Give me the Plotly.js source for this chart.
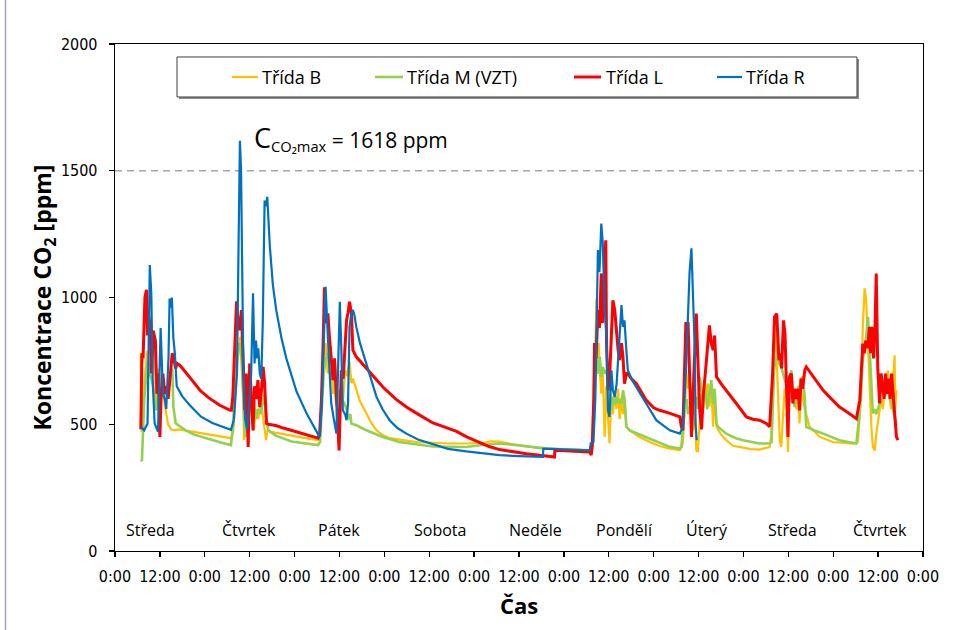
<!DOCTYPE html>
<html>
<head>
<meta charset="utf-8">
<script src="https://cdn.plot.ly/plotly-3.0.1.min.js"></script>
<style>
  html, body { margin: 0; padding: 0; background: #ffffff; }
  #chart { width: 971px; height: 630px; }
</style>
</head>
<body>
<div id="chart"></div>
<script>
// CO2 concentration in four classrooms, hours counted from Wednesday 0:00
const seriesNames = ['Třída B', 'Třída M (VZT)', 'Třída L', 'Třída R'];
const seriesColors = ['#FFC000', '#92D050', '#FF0000', '#0070C0'];

// [hour, ppm]
const tridaB = [
  [6.9,780],[7.1,470],[7.8,660],[8.6,790],[9.2,700],[9.8,760],[10.5,830],[11.0,560],[11.6,720],[12.2,660],
  [13.0,610],[13.5,560],[14.2,500],[15.0,480],[15.8,476],[17,480],[20,472],[23,466],[26,458],[29,450],[31.0,445],
  [31.6,470],[32.2,620],[32.8,760],[33.5,845],[34.0,780],[34.5,437],[35.0,500],[35.5,540],[36.0,608],[36.6,520],
  [37.1,476],[37.7,560],[38.3,520],[38.9,600],[39.6,516],[40.0,470],[40.4,437],[40.8,480],[41.5,470],[44,464],
  [47,455],[50,446],[52,442],[54.3,438],
  [54.8,460],[55.3,620],[55.8,760],[56.3,820],[56.9,700],[57.3,851],[57.8,760],[58.3,620],[58.8,700],[59.4,560],
  [60.0,520],[60.5,640],[61.0,600],[61.5,713],[62.0,690],[62.7,746],[63.2,662],[63.6,680],[64.5,634],[65.5,590],
  [67.2,543],[68.5,505],[69.9,476],[71.5,458],[73.4,445],[77,436],[80.6,430],[85,427],[89.5,424],[94,424],
  [98.4,426],[100.5,433],[102.8,432],[106,422],[109,415],[111.7,410],[116,405],[120,402],[126.9,397],
  [127.5,400],[127.8,582],[128.2,753],[128.5,850],[128.7,996],[129.0,700],[129.3,820],[129.6,713],[130.0,621],
  [130.4,700],[130.9,450],[131.3,650],[131.8,540],[132.2,424],[132.7,608],[133.1,540],[133.6,620],[134.0,560],
  [134.5,640],[134.9,520],[135.4,600],[135.8,540],[136.2,608],[136.7,490],[137.6,476],[140.2,450],[143,430],
  [145.6,414],[148,405],[151.0,397],
  [151.8,424],[152.3,560],[152.8,700],[153.2,640],[153.6,687],[154.1,600],[154.5,476],[155.0,560],[155.4,397],
  [155.8,391],[156.3,520],[156.8,620],[157.3,560],[157.8,650],[158.1,608],[158.5,660],[158.9,570],[159.4,650],
  [159.9,490],[160.3,620],[160.8,490],[162,460],[163.4,437],[165.2,415],[167.9,408],[170,402],[172.3,400],[175.0,410],
  [175.4,450],[175.8,650],[176.2,800],[176.6,884],[177.1,700],[177.7,437],[178.1,410],[178.6,560],[179.0,640],
  [179.5,600],[179.9,391],[180.3,640],[180.8,620],[181.2,647],[181.7,600],[182.2,560],[182.6,620],[183.0,503],
  [183.4,640],[183.9,600],[184.4,560],[185.7,490],[188.4,450],[191.9,430],[195,425],[197.3,424],[198.6,430],
  [199.5,621],[199.9,884],[200.4,1036],[200.8,990],[201.3,800],[201.7,650],[202.2,490],[202.6,410],[203.1,397],
  [203.5,460],[203.9,500],[204.4,542],[204.8,600],[205.3,560],[205.7,640],[206.2,620],[206.6,713],[207.1,600],
  [207.5,560],[207.9,650],[208.4,772],[208.6,560],[208.9,634]
];

const tridaM = [
  [6.9,360],[7.2,355],[7.8,595],[8.7,750],[9.3,700],[10.1,660],[11.0,555],[11.9,630],[12.8,610],[13.7,622],
  [14.5,680],[15.3,720],[15.6,570],[16.2,505],[17,495],[19,475],[21,460],[23,450],[26,438],[29,425],[31.0,418],
  [31.6,500],[32.2,700],[32.7,780],[33.3,820],[33.8,760],[34.3,600],[34.8,450],[35.3,500],[35.8,620],[36.4,560],
  [37.0,600],[37.6,520],[38.2,560],[38.9,540],[39.5,580],[40.0,620],[40.4,520],[41,475],[43,455],[47.2,432],
  [51,424],[54.3,418],
  [54.8,430],[55.3,560],[55.8,700],[56.4,760],[57.0,780],[57.5,700],[58.0,674],[58.5,720],[59.0,600],[59.6,560],
  [60.1,640],[60.6,600],[61.3,583],[61.9,560],[62.4,520],[62.9,540],[63.2,503],[64.5,496],[67.2,476],[71.6,450],
  [76,430],[85,412],[93.9,410],[98,418],[102.8,424],[107,418],[111.7,410],[114.5,405],[120,400],[126.9,397],
  [127.5,405],[127.9,480],[128.3,640],[128.7,753],[129.1,700],[129.6,766],[130.0,687],[130.4,726],[130.9,700],
  [131.4,713],[131.8,650],[132.2,634],[132.7,555],[133.1,608],[133.6,580],[134.0,608],[134.5,582],[134.9,600],
  [135.4,580],[135.8,634],[136.2,600],[136.7,490],[137.6,476],[140.2,460],[143,440],[145.6,424],[148,412],[151.0,404],
  [151.4,410],[151.8,480],[152.3,560],[152.8,600],[153.2,540],[153.6,555],[154.1,600],[154.6,640],[155.0,580],
  [155.4,608],[155.8,560],[156.3,687],[156.8,640],[157.3,600],[157.8,640],[158.3,560],[158.9,620],[159.4,674],
  [159.9,580],[160.3,640],[160.8,503],[161.2,490],[163.4,463],[166,445],[167.9,437],[170,430],[172.3,424],[175.0,424],
  [175.5,430],[175.8,542],[176.2,713],[176.6,760],[177.1,779],[177.5,740],[178.1,726],[178.6,700],[179.0,680],
  [179.5,650],[179.9,620],[180.3,680],[180.8,713],[181.2,650],[181.7,568],[182.2,600],[182.6,647],[183.0,647],
  [183.4,680],[183.9,687],[184.4,600],[184.8,490],[187,475],[189.3,463],[191.5,450],[193.7,437],[196,430],[198.2,424],
  [199.1,555],[199.9,753],[200.8,845],[201.3,923],[201.7,805],[202.2,647],[202.6,542],[203.1,560],[203.5,540],
  [204.4,582],[205.3,600],[206.2,620],[207.1,647],[207.5,600],[207.9,560],[208.4,529],[208.9,496]
];

const tridaL = [
  [6.9,480],[7.2,780],[7.5,760],[8.0,1000],[8.4,1030],[8.7,850],[9.0,930],[9.3,900],[9.8,700],[10.2,870],
  [10.8,830],[11.2,620],[11.6,700],[12.0,450],[12.3,600],[12.8,700],[13.3,620],[13.7,650],[14.2,600],[14.8,700],
  [15.3,780],[15.7,760],[16.2,720],[16.6,740],[17.5,730],[20,685],[22.7,634],[25,605],[28,575],[30.8,555],
  [31.1,555],[31.5,610],[32.0,800],[32.5,985],[32.9,900],[33.3,871],[33.8,950],[34.2,760],[34.7,555],[35.1,700],
  [35.6,410],[36.0,740],[36.5,608],[36.9,476],[37.3,650],[37.8,600],[38.2,674],[38.7,568],[39.2,640],[39.6,726],
  [40.0,662],[40.5,503],[41.0,500],[43,495],[45,485],[47.2,476],[50,465],[52,455],[54.3,445],
  [54.7,460],[55.2,600],[55.6,800],[56.0,1040],[56.4,900],[56.9,937],[57.3,850],[57.8,766],[58.3,674],[58.7,760],
  [59.2,583],[59.6,450],[59.9,397],[60.2,560],[60.5,713],[61.0,680],[61.4,780],[61.9,910],[62.3,940],[62.7,983],
  [63.2,937],[63.6,792],[64.5,766],[66,740],[68,705],[71.6,647],[75,600],[77.9,568],[81,540],[85,505],[88,490],
  [91.3,472],[94,450],[97.5,428],[100,412],[102.8,400],[107,390],[110,384],[113.5,378],[117.5,371],[117.6,397],
  [122,395],[126.9,391],[127.3,378],
  [127.6,420],[128.0,600],[128.2,820],[128.6,760],[129.1,950],[129.5,880],[130.0,1095],[130.3,900],[130.6,1000],
  [131.0,1150],[131.2,1226],[131.4,818],[131.8,634],[132.2,680],[132.7,871],[133.1,989],[133.6,950],[134.0,871],
  [134.5,792],[134.9,753],[135.4,820],[135.8,766],[136.2,660],[136.7,700],[137.1,700],[138,680],[139.4,660],
  [142.0,595],[144,565],[145.6,555],[148,545],[151.0,529],[151.4,490],[151.8,476],
  [152.2,700],[152.6,897],[153.2,897],[153.6,700],[154.1,450],[154.6,640],[155.0,800],[155.4,937],[155.8,760],
  [156.3,560],[156.8,480],[157.3,620],[157.8,700],[158.3,800],[158.9,890],[159.4,820],[159.9,792],[160.3,850],
  [160.8,687],[162,660],[163.4,634],[166.1,582],[168.8,529],[170.5,520],[172.3,516],[174.1,503],[175.0,490],
  [175.8,700],[176.3,923],[176.9,937],[177.5,753],[177.9,780],[178.2,720],[178.7,910],[179.1,860],[179.5,600],
  [179.9,450],[180.3,687],[180.8,700],[181.2,582],[181.7,640],[182.2,600],[182.6,640],[183.0,555],[183.4,680],
  [183.8,640],[184.4,713],[184.8,726],[187,680],[189.3,634],[191.5,600],[193.7,568],[196,545],[198.2,522],
  [199.1,595],[199.9,818],[200.3,780],[200.7,830],[201.2,800],[201.7,884],[202.0,780],[202.3,884],[202.8,760],
  [203.2,900],[203.5,1095],[203.9,726],[204.4,582],[204.8,700],[205.2,650],[205.6,600],[206.0,700],[206.4,620],
  [206.8,680],[207.2,600],[207.6,700],[208.0,620],[208.4,529],[208.9,450],[209.3,437]
];

const tridaR = [
  [6.9,490],[7.8,476],[8.7,503],[9.3,1128],[9.7,1017],[10.1,662],[10.6,503],[11.5,470],[12.2,880],[12.8,622],
  [13.3,600],[13.7,560],[14.3,760],[14.6,996],[14.9,960],[15.2,1000],[15.6,840],[16.0,780],[16.5,650],[18,610],
  [20,575],[23,530],[26,505],[29,488],[31.0,478],
  [31.8,520],[32.6,700],[33.2,1400],[33.4,1618],[33.7,1500],[34.0,1100],[34.3,740],[34.8,520],[35.3,480],[35.8,560],
  [36.4,700],[36.9,1017],[37.3,740],[37.7,830],[38.0,760],[38.3,800],[38.7,700],[39.1,680],[39.5,900],[40.0,1383],
  [40.3,1360],[40.7,1397],[41.0,1300],[41.4,1200],[42.2,1050],[43.1,950],[44.5,840],[45.8,760],[48.5,630],
  [51.2,543],[54.3,460],
  [54.7,450],[55.2,560],[55.6,713],[56.3,1042],[56.9,845],[57.4,700],[57.8,583],[58.5,520],[59.2,463],[59.6,700],
  [60.1,983],[60.5,800],[60.9,555],[61.5,540],[61.9,516],[62.3,583],[62.7,884],[63.2,940],[63.6,950],[64.0,930],
  [64.5,884],[65.5,820],[67.2,740],[68.5,670],[69.9,608],[71.5,560],[73.4,516],[75.5,485],[77.9,463],[81,440],
  [85.0,420],[89,403],[93.9,393],[98,385],[102.8,378],[108,374],[114.4,371],[114.5,404],[120,401],[126.9,397],
  [127.2,425],[127.9,430],[128.4,600],[128.7,820],[129.1,1187],[129.5,1100],[130.0,1292],[130.4,1213],[130.9,950],
  [131.4,845],[131.8,555],[132.2,529],[132.7,713],[133.1,634],[133.6,608],[134.1,660],[134.7,818],[135.4,970],
  [135.8,884],[136.2,910],[136.7,792],[137.1,713],[138.2,675],[139.4,647],[142.0,582],[144.7,516],[146.5,495],
  [148.3,476],[151.0,463],[151.8,490],[152.6,700],[153.2,950],[153.6,1100],[154.1,1194],[154.5,1000],[155.0,792],
  [155.2,503],[155.5,437]
];

// x axis: a tick every 12 hours over nine days
const tickHours = [0,12,24,36,48,60,72,84,96,108,120,132,144,156,168,180,192,204,216];
const tickText = ['0:00','12:00','0:00','12:00','0:00','12:00','0:00','12:00','0:00','12:00',
                  '0:00','12:00','0:00','12:00','0:00','12:00','0:00','12:00','0:00'];

const dayNames = ['Středa','Čtvrtek','Pátek','Sobota','Neděle','Pondělí','Úterý','Středa','Čtvrtek'];
const dayLabelHours = [9.5, 35.9, 59.8, 86.8, 112.5, 136.2, 158.3, 181.0, 204.5];

const maxValue = 1618;
const limitValue = 1500;

const allSeries = [tridaB, tridaM, tridaL, tridaR];
const lineWidths = [2.2, 2.6, 3, 2.2];

const traces = allSeries.map((pts, i) => ({
  type: 'scatter',
  mode: 'lines',
  name: seriesNames[i],
  x: pts.map(p => p[0]),
  y: pts.map(p => p[1]),
  line: { color: seriesColors[i], width: lineWidths[i] },
  hoverinfo: 'skip',
  showlegend: false
}));

const tickFont = { family: 'Liberation Sans Narrow, DejaVu Sans Condensed, sans-serif', size: 16, color: '#000' };
const textFont = 'Open Sans, Noto Sans, sans-serif';

const shapes = [
  // limit line at 1500 ppm
  { type: 'line', xref: 'paper', x0: 0, x1: 1, yref: 'y', y0: limitValue, y1: limitValue,
    line: { color: '#a6a6a6', width: 1.5, dash: '7px,5px' }, layer: 'below' },
  // legend frame with shadow
  { type: 'rect', xref: 'paper', yref: 'paper', x0: 0.0792, x1: 0.9208, y0: 0.8916, y1: 0.9704,
    line: { width: 0 }, fillcolor: '#8c8c8c' },
  { type: 'rect', xref: 'paper', yref: 'paper', x0: 0.0767, x1: 0.9183, y0: 0.8955, y1: 0.9744,
    line: { color: '#404040', width: 1 }, fillcolor: '#ffffff' },
  // outer frame line on the left edge
  { type: 'line', xref: 'paper', yref: 'paper', x0: -0.1355, x1: -0.1355, y0: -0.16, y1: 1.09,
    line: { color: '#a0a0c8', width: 1.5 } }
];

const annotations = [];

// legend entries
const legendLineX = [[0.1448, 0.1770], [0.3218, 0.3564], [0.5681, 0.6015], [0.7450, 0.7760]];
const legendTextX = [0.1795, 0.3595, 0.6046, 0.7785];
const legendY = 0.9349;
seriesNames.forEach((name, i) => {
  shapes.push({ type: 'line', xref: 'paper', yref: 'paper',
    x0: legendLineX[i][0], x1: legendLineX[i][1], y0: legendY, y1: legendY,
    line: { color: seriesColors[i], width: lineWidths[i] } });
  annotations.push({ xref: 'paper', yref: 'paper', x: legendTextX[i], y: legendY,
    xanchor: 'left', yanchor: 'middle', showarrow: false, text: name,
    font: { family: textFont, size: 18, color: '#000' } });
});

// day names inside the plot
dayNames.forEach((d, i) => {
  annotations.push({ xref: 'x', yref: 'y', x: dayLabelHours[i], y: 82,
    xanchor: 'center', yanchor: 'middle', showarrow: false, text: d,
    font: { family: textFont, size: 16, color: '#000' } });
});

// maximum concentration label
annotations.push({ xref: 'x', yref: 'y', x: 36.7, y: 1632, xanchor: 'left', yanchor: 'middle',
  showarrow: false,
  text: '<span style="font-size:27px">C</span><sub>CO₂max</sub> = ' + maxValue + ' ppm',
  font: { family: textFont, size: 21, color: '#000' } });

const layout = {
  width: 971, height: 630,
  margin: { l: 115, r: 48, t: 44, b: 79 },
  paper_bgcolor: '#ffffff', plot_bgcolor: '#ffffff',
  showlegend: false,
  xaxis: {
    range: [0, 216], tickmode: 'array', tickvals: tickHours, ticktext: tickText,
    showgrid: false, zeroline: false,
    showline: true, linecolor: '#000', linewidth: 1.3, mirror: true,
    ticks: 'outside', ticklen: 5, tickcolor: '#000', tickwidth: 1.3,
    tickfont: tickFont, ticklabelstandoff: 5,
    title: { text: 'Čas', font: { family: textFont, size: 22, color: '#000', weight: 'bold' }, standoff: 14 }
  },
  yaxis: {
    range: [0, 2000], tickmode: 'array', tickvals: [0, 500, 1000, 1500, 2000],
    showgrid: false, zeroline: false,
    showline: true, linecolor: '#000', linewidth: 1.3, mirror: true,
    ticks: 'outside', ticklen: 5, tickcolor: '#000', tickwidth: 1.3,
    tickfont: tickFont, ticklabelstandoff: 8,
    title: { text: 'Koncentrace CO<sub>2</sub> [ppm]',
             font: { family: textFont, size: 23, color: '#000', weight: 'bold' }, standoff: 0 }
  },
  shapes: shapes,
  annotations: annotations
};

Plotly.newPlot('chart', traces, layout, { staticPlot: true, displayModeBar: false });
</script>
</body>
</html>
